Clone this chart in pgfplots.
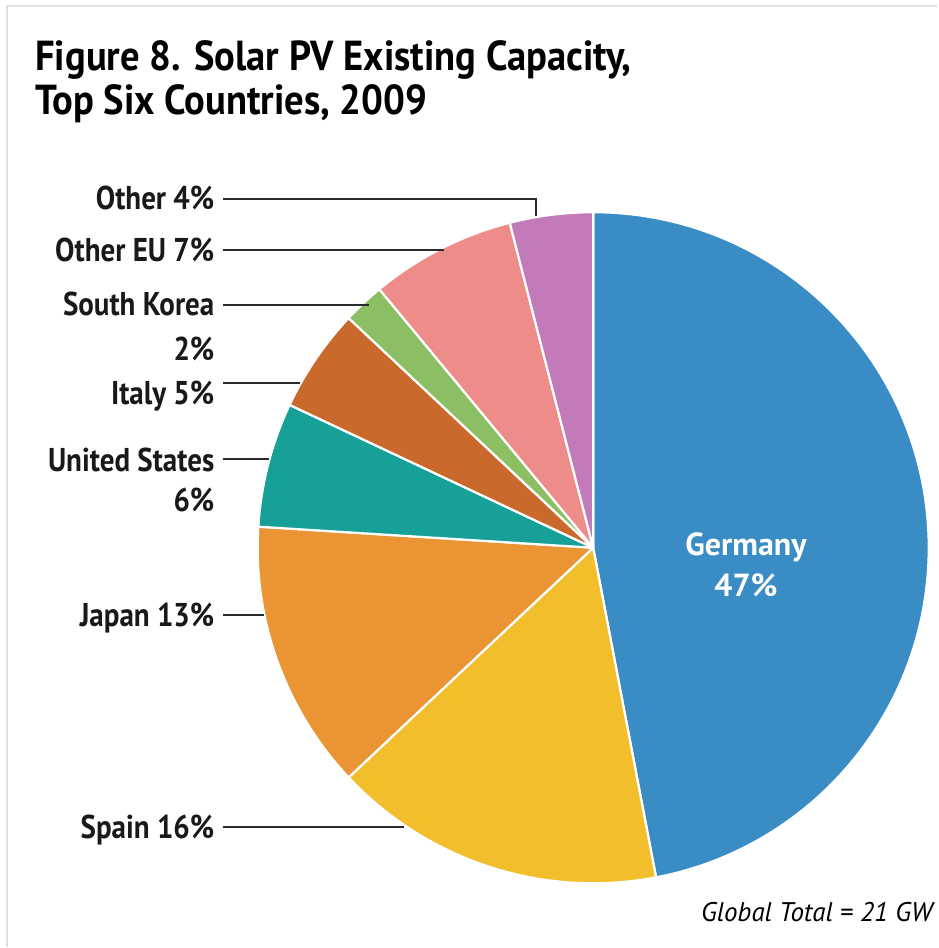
\documentclass[border=0pt]{standalone}
\usepackage{pgfplots}
\pgfplotsset{compat=1.18}
\usepackage{pgfplotstable}
\usepackage{fontspec}
\setmainfont{PT Sans}
\newfontfamily\titlefont[FakeStretch=0.92]{PT Sans}
\newfontfamily\labfont[FakeStretch=0.88]{PT Sans}
\definecolor{cGer}{HTML}{398CC4}
\definecolor{cSpa}{HTML}{F3BE2C}
\definecolor{cJap}{HTML}{EB9434}
\definecolor{cUS}{HTML}{17A097}
\definecolor{cIta}{HTML}{C96A2C}
\definecolor{cKor}{HTML}{8CBF63}
\definecolor{cOEU}{HTML}{EE8C8A}
\definecolor{cOth}{HTML}{C27BB8}
\definecolor{leader}{HTML}{2A2A2A}
\pgfplotstableread{
label value color
Germany 47 cGer
Spain 16 cSpa
Japan 13 cJap
US 6 cUS
Italy 5 cIta
SKorea 2 cKor
OtherEU 7 cOEU
Other 4 cOth
}\piedata
\begin{document}
\begin{tikzpicture}
\begin{axis}[
  hide axis, scale only axis, clip=false,
  x=0.5pt, y=0.5pt, y dir=reverse,
  xmin=0, xmax=938, ymin=0, ymax=948,
]
\fill[white] (axis cs:0,0) rectangle (axis cs:938,948);
\draw[black!12, line width=1.3pt] (axis cs:7,948) -- (axis cs:7,6) -- (axis cs:938,6);
\def\cum{0}
\pgfplotsforeachungrouped \i in {0,...,7}{%
  \pgfplotstablegetelem{\i}{value}\of\piedata
  \let\sliceval\pgfplotsretval
  \pgfplotstablegetelem{\i}{color}\of\piedata
  \let\slicecol\pgfplotsretval
  \pgfmathsetmacro{\angA}{90-3.6*\cum}%
  \pgfmathsetmacro{\angB}{90-3.6*(\cum+\sliceval)}%
  \pgfmathsetmacro{\cum}{\cum+\sliceval}%
  \edef\temp{\noexpand\fill[\slicecol, draw=white, line width=1.1pt, line join=round]
    (axis cs:594,548.5) -- ([shift={(\angA:168pt)}]axis cs:594,548.5)
    arc[start angle=\angA, end angle=\angB, radius=168pt] -- cycle;}%
  \temp
}
% title
\node[anchor=base west, inner sep=0pt, font=\titlefont\bfseries\fontsize{21}{26}\selectfont] at (axis cs:35,71) {Figure 8. Solar PV Existing Capacity,};
\node[anchor=base west, inner sep=0pt, font=\titlefont\bfseries\fontsize{21}{26}\selectfont] at (axis cs:35,115) {Top Six Countries, 2009};
% leader lines
\draw[leader, line width=1pt] (axis cs:223,199) -- (axis cs:537,199) -- (axis cs:537,216);
\draw[leader, line width=1pt] (axis cs:223,250) -- (axis cs:445,250);
\draw[leader, line width=1pt] (axis cs:223,305) -- (axis cs:370,305);
\draw[leader, line width=1pt] (axis cs:223,384) -- (axis cs:300,384);
\draw[leader, line width=1pt] (axis cs:223,460) -- (axis cs:269,460);
\draw[leader, line width=1pt] (axis cs:223,616) -- (axis cs:264,616);
\draw[leader, line width=1pt] (axis cs:223,828) -- (axis cs:405,828);
% labels
\tikzset{lab/.style={anchor=base east, inner sep=0pt, text=black!90, font=\labfont\bfseries\fontsize{16.5}{19}\selectfont}}
\node[lab] at (axis cs:215,210) {Other 4\%};
\node[lab] at (axis cs:215,262) {Other EU 7\%};
\node[lab] at (axis cs:215,316) {South Korea};
\node[lab] at (axis cs:215,361) {2\%};
\node[lab] at (axis cs:215,405) {Italy 5\%};
\node[lab] at (axis cs:215,472) {United States};
\node[lab] at (axis cs:215,512) {6\%};
\node[lab] at (axis cs:215,627) {Japan 13\%};
\node[lab] at (axis cs:215,840) {Spain 16\%};
% Germany
\node[anchor=base, inner sep=0pt, text=white, font=\bfseries\fontsize{16}{19}\selectfont] at (axis cs:747,556) {Germany};
\node[anchor=base, inner sep=0pt, text=white, font=\bfseries\fontsize{16}{19}\selectfont] at (axis cs:747,597) {47\%};
% note
\node[anchor=base east, inner sep=0pt, font=\itshape\fontsize{13.5}{16}\selectfont] at (axis cs:934,923) {Global Total = 21 GW};
\end{axis}
\end{tikzpicture}
\end{document}
